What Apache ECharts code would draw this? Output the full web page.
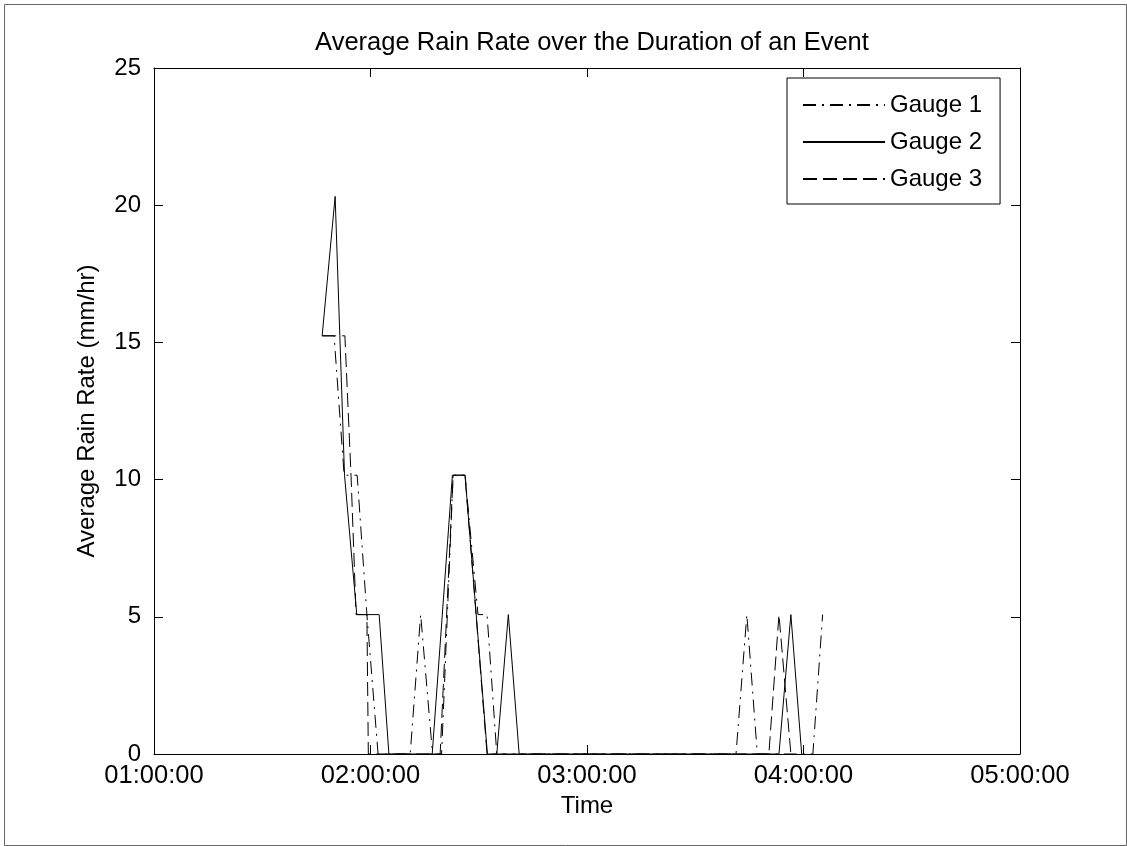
<!DOCTYPE html>
<html>
<head>
<meta charset="utf-8">
<script src="https://cdn.jsdelivr.net/npm/echarts@6/dist/echarts.min.js"></script>
<style>
html,body{margin:0;padding:0;background:#fff;}
#chart{width:1127px;height:846px;}
</style>
</head>
<body>
<div id="chart"></div>
<script>
// Time in minutes after midnight, rain rate in mm/hr
const gauge1Time = [106.6, 109.9, 112.7, 116.3, 119.0, 122.1, 131.0, 133.9, 137.2, 139.7, 142.9, 146.2, 149.8, 152.3, 155.0, 221.3, 224.3, 227.2, 242.6, 245.3];
const gauge1Rate = [15.24, 15.24, 10.16, 10.16, 5.08, 0, 0, 5.08, 0, 0, 10.16, 10.16, 5.08, 5.08, 0, 0, 5.08, 0, 0, 5.08];

const gauge2Time = [106.6, 110.2, 111.5, 112.8, 116.2, 122.4, 125.1, 137.1, 142.7, 146.2, 152.4, 155.0, 158.2, 161.2, 233.2, 236.5, 239.5];
const gauge2Rate = [15.24, 20.32, 15.24, 10.16, 5.08, 5.08, 0, 0, 10.16, 10.16, 0, 0, 5.08, 0, 0, 5.08, 0];

const gauge3Time = [106.6, 112.9, 114.6, 116.0, 119.0, 119.4, 139.3, 142.9, 146.2, 152.3, 230.4, 233.2, 236.5];
const gauge3Rate = [15.24, 15.24, 10.16, 5.08, 5.08, 0, 0, 10.16, 10.16, 0, 0, 5.08, 0];

const seriesNames = ['Gauge 1', 'Gauge 2', 'Gauge 3'];
const xTickValues = [60, 120, 180, 240, 300];
const xTickLabels = ['01:00:00', '02:00:00', '03:00:00', '04:00:00', '05:00:00'];
const yTickValues = [0, 5, 10, 15, 20, 25];

function pairs(t, v) { return t.map((x, i) => [x, v[i]]); }
function xLabel(val) {
  const i = xTickValues.indexOf(Math.round(val));
  return i >= 0 ? xTickLabels[i] : '';
}

const FONT = '"Liberation Sans", Arial, sans-serif';
const FS = 24;
const chart = echarts.init(document.getElementById('chart'), null, {renderer: 'canvas'});

const commonX = {
  type: 'value', min: 60, max: 300, interval: 60,
  axisLine: {show: true, onZero: false, lineStyle: {color: '#000', width: 1}},
  axisTick: {show: true, inside: true, length: 9, lineStyle: {color: '#000'}},
  splitLine: {show: false}
};
const commonY = {
  type: 'value', min: 0, max: 25, interval: 5,
  axisLine: {show: true, onZero: false, lineStyle: {color: '#000', width: 1}},
  axisTick: {show: true, inside: true, length: 9, lineStyle: {color: '#000'}},
  splitLine: {show: false}
};

const option = {
  animation: false,
  backgroundColor: '#fff',
  textStyle: {fontFamily: FONT, color: '#000'},
  title: {
    text: 'Average Rain Rate over the Duration of an Event',
    left: 587, top: 25, textAlign: 'center',
    textStyle: {fontFamily: FONT, fontSize: 25.5, fontWeight: 'normal', color: '#000'}
  },
  grid: {left: 154, top: 68, right: 107, bottom: 92, containLabel: false},
  legend: {
    orient: 'vertical', left: 787, top: 78,
    data: seriesNames,
    itemWidth: 82, itemHeight: 14, itemGap: 11,
    padding: [14, 18, 12, 15],
    borderColor: '#000', borderWidth: 1, backgroundColor: '#fff',
    itemStyle: {opacity: 0},
    textStyle: {fontFamily: FONT, fontSize: FS, color: '#000', lineHeight: 26}
  },
  xAxis: [
    Object.assign({}, commonX, {
      position: 'bottom',
      name: 'Time', nameLocation: 'middle', nameGap: 39,
      nameTextStyle: {fontFamily: FONT, fontSize: FS, color: '#000'},
      axisLabel: {show: true, margin: 9, fontFamily: FONT, fontSize: 25.5, color: '#000', formatter: xLabel}
    }),
    Object.assign({}, commonX, {position: 'top', axisLabel: {show: false}})
  ],
  yAxis: [
    Object.assign({}, commonY, {
      position: 'left',
      name: 'Average Rain Rate (mm/hr)', nameLocation: 'middle', nameGap: 55,
      nameTextStyle: {fontFamily: FONT, fontSize: FS, color: '#000'},
      axisLabel: {show: true, margin: 13, fontFamily: FONT, fontSize: FS, color: '#000'}
    }),
    Object.assign({}, commonY, {position: 'right', axisLabel: {show: false}})
  ],
  series: [
    {name: seriesNames[0], type: 'line', symbol: 'none', data: pairs(gauge1Time, gauge1Rate),
     lineStyle: {color: '#000', width: 1, type: [13, 6, 2, 6]}, itemStyle: {color: '#000'}},
    {name: seriesNames[1], type: 'line', symbol: 'none', data: pairs(gauge2Time, gauge2Rate),
     lineStyle: {color: '#000', width: 1, type: 'solid'}, itemStyle: {color: '#000'}},
    {name: seriesNames[2], type: 'line', symbol: 'none', data: pairs(gauge3Time, gauge3Rate),
     lineStyle: {color: '#000', width: 1, type: [14, 6]}, itemStyle: {color: '#000'}}
  ],
  graphic: [{
    type: 'rect', left: 2, top: 2, silent: true,
    shape: {width: 1122, height: 841},
    style: {fill: 'none', stroke: '#666', lineWidth: 1}
  }]
};
chart.setOption(option);
</script>
</body>
</html>
